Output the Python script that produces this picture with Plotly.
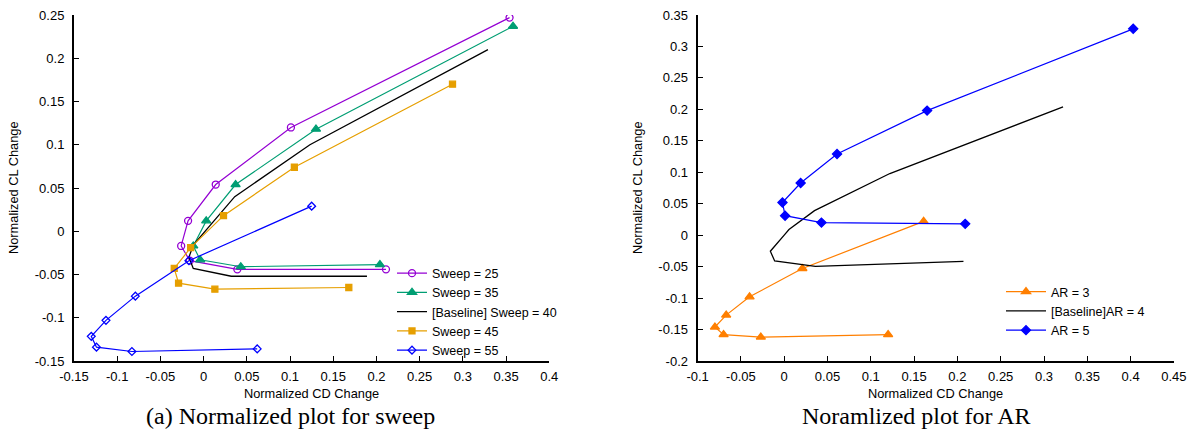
import plotly.graph_objects as go

# ---------------- data ----------------
sweep25_cd = [0.354, 0.101, 0.014, -0.018, -0.026, -0.016, 0.039, 0.211]
sweep25_cl = [0.247, 0.120, 0.054, 0.012, -0.017, -0.034, -0.044, -0.044]
sweep35_cd = [0.358, 0.130, 0.037, 0.003, -0.012, -0.004, 0.043, 0.204]
sweep35_cl = [0.237, 0.118, 0.054, 0.012, -0.017, -0.033, -0.041, -0.0385]
sweep40_cd = [0.329, 0.123, 0.036, -0.012, -0.017, -0.012, 0.032, 0.189]
sweep40_cl = [0.210, 0.100, 0.040, -0.016, -0.030, -0.043, -0.052, -0.052]
sweep45_cd = [0.288, 0.105, 0.023, -0.015, -0.034, -0.029, 0.013, 0.168]
sweep45_cl = [0.170, 0.074, 0.018, -0.019, -0.043, -0.060, -0.067, -0.065]
sweep55_cd = [0.125, -0.017, -0.079, -0.113, -0.130, -0.124, -0.083, 0.062]
sweep55_cl = [0.029, -0.034, -0.075, -0.103, -0.1215, -0.134, -0.139, -0.136]

ar3_cd = [0.161, 0.021, -0.040, -0.067, -0.080, -0.070, -0.027, 0.120]
ar3_cl = [0.022, -0.053, -0.098, -0.127, -0.146, -0.158, -0.162, -0.158]
ar4_cd = [0.322, 0.122, 0.035, 0.0055, 0.000, -0.016, -0.011, 0.036, 0.207]
ar4_cl = [0.204, 0.098, 0.039, 0.009, 0.000, -0.0255, -0.041, -0.0495, -0.0415]
ar5_cd = [0.403, 0.165, 0.061, 0.019, -0.002, 0.001, 0.043, 0.209]
ar5_cl = [0.328, 0.198, 0.129, 0.083, 0.052, 0.031, 0.020, 0.018]

left_xticks = [-0.15, -0.1, -0.05, 0, 0.05, 0.1, 0.15, 0.2, 0.25, 0.3, 0.35, 0.4]
left_xtext = ["-0.15", "-0.1", "-0.05", "0", "0.05", "0.1", "0.15", "0.2", "0.25", "0.3", "0.35", "0.4"]
left_yticks = [-0.15, -0.1, -0.05, 0, 0.05, 0.1, 0.15, 0.2, 0.25]
left_ytext = ["-0.15", "-0.1", "-0.05", "0", "0.05", "0.1", "0.15", "0.2", "0.25"]
right_xticks = [-0.1, -0.05, 0, 0.05, 0.1, 0.15, 0.2, 0.25, 0.3, 0.35, 0.4, 0.45]
right_xtext = ["-0.1", "-0.05", "0", "0.05", "0.1", "0.15", "0.2", "0.25", "0.3", "0.35", "0.4", "0.45"]
right_yticks = [-0.2, -0.15, -0.1, -0.05, 0, 0.05, 0.1, 0.15, 0.2, 0.25, 0.3, 0.35]
right_ytext = ["-0.2", "-0.15", "-0.1", "-0.05", "0", "0.05", "0.1", "0.15", "0.2", "0.25", "0.3", "0.35"]

W, H = 1196, 435
SANS = "Liberation Sans, Arial, sans-serif"
SERIF = "Liberation Serif, Times New Roman, serif"

fig = go.Figure()

def add(x, y, name, color, symbol=None, size=7, open_=False, xa="x", ya="y", legend="legend", width=1.2):
    mode = "lines+markers" if symbol else "lines"
    marker = None
    if symbol:
        marker = dict(symbol=symbol + ("-open" if open_ else ""), size=size, color=color,
                      line=dict(color=color, width=1.3))
    fig.add_trace(go.Scatter(x=x, y=y, name=name, mode=mode, xaxis=xa, yaxis=ya,
                             line=dict(color=color, width=width), marker=marker,
                             legend=legend))

add(sweep25_cd, sweep25_cl, "Sweep = 25", "#9400d3", "circle", 7, True)
add(sweep35_cd, sweep35_cl, "Sweep = 35", "#009e73", "triangle-up", 8)
add(sweep40_cd, sweep40_cl, "[Baseline] Sweep = 40", "#000000", None, width=1.3)
add(sweep45_cd, sweep45_cl, "Sweep = 45", "#e69f00", "square", 6)
add(sweep55_cd, sweep55_cl, "Sweep = 55", "#0000ff", "diamond", 6, True)

add(ar3_cd, ar3_cl, "AR = 3", "#ff7f00", "triangle-up", 8, xa="x2", ya="y2", legend="legend2")
add(ar4_cd, ar4_cl, "[Baseline]AR = 4", "#000000", None, xa="x2", ya="y2", legend="legend2", width=1.3)
add(ar5_cd, ar5_cl, "AR = 5", "#0000ff", "diamond", 7, xa="x2", ya="y2", legend="legend2")

# plot areas in pixels
L_x0, L_x1 = 74, 549.3
R_x0, R_x1 = 697.6, 1173.9
Y_top, Y_bot = 15, 361

def px(v):
    return v / W

def py(v):
    return (H - v) / H

axis_common = dict(showline=True, linewidth=2, linecolor="black", mirror=False,
                   ticks="inside", ticklen=5, tickwidth=1.2, tickcolor="black",
                   showgrid=False, zeroline=False, automargin=False,
                   tickfont=dict(family=SANS, size=13, color="black"))

fig.update_layout(
    template="none",
    width=W, height=H,
    margin=dict(l=0, r=0, t=0, b=0, pad=0, autoexpand=False),
    paper_bgcolor="white", plot_bgcolor="white",
    xaxis=dict(domain=[px(L_x0), px(L_x1)], range=[-0.15, 0.4], tickvals=left_xticks,
               ticktext=left_xtext, anchor="y", ticklabelstandoff=2, **axis_common),
    yaxis=dict(domain=[py(Y_bot), py(Y_top)], range=[-0.15, 0.25], tickvals=left_yticks,
               ticktext=left_ytext, anchor="x", ticklabelstandoff=5, **axis_common),
    xaxis2=dict(domain=[px(R_x0), px(R_x1)], range=[-0.1, 0.45], tickvals=right_xticks,
                ticktext=right_xtext, anchor="y2", ticklabelstandoff=2, **axis_common),
    yaxis2=dict(domain=[py(Y_bot), py(Y_top)], range=[-0.2, 0.35], tickvals=right_yticks,
                ticktext=right_ytext, anchor="x2", ticklabelstandoff=5, **axis_common),
    legend=dict(x=px(392), y=py(312), xanchor="left", yanchor="middle",
                bgcolor="rgba(0,0,0,0)", font=dict(family=SANS, size=12.5, color="black"),
                itemwidth=30),
    legend2=dict(x=px(1150), y=py(311), xanchor="right", yanchor="middle",
                 bgcolor="rgba(0,0,0,0)", font=dict(family=SANS, size=12.5, color="black"),
                 itemwidth=40),
    showlegend=True,
)

annotations = [
    dict(text="Normalized CD Change", x=px((L_x0 + L_x1) / 2), y=py(393)),
    dict(text="Normalized CD Change", x=px((R_x0 + R_x1) / 2), y=py(393)),
    dict(text="Normalized CL Change", x=px(13), y=py((Y_top + Y_bot) / 2), textangle=-90),
    dict(text="Normalized CL Change", x=px(637), y=py((Y_top + Y_bot) / 2), textangle=-90),
]
for a in annotations:
    fig.add_annotation(xref="paper", yref="paper", showarrow=False, xanchor="center",
                       yanchor="middle", font=dict(family=SANS, size=12.8, color="black"), **a)

fig.add_annotation(text="(a) Normalized plot for sweep", x=px(290), y=py(416), xref="paper",
                   yref="paper", showarrow=False, xanchor="center", yanchor="middle",
                   font=dict(family=SERIF, size=24, color="black"))
fig.add_annotation(text="Noramlized plot for AR", x=px(916), y=py(416), xref="paper",
                   yref="paper", showarrow=False, xanchor="center", yanchor="middle",
                   font=dict(family=SERIF, size=24, color="black"))

fig.write_html("out.html", config={"displayModeBar": False},
               post_script="document.body.style.margin='0px';document.body.style.overflow='hidden';")
